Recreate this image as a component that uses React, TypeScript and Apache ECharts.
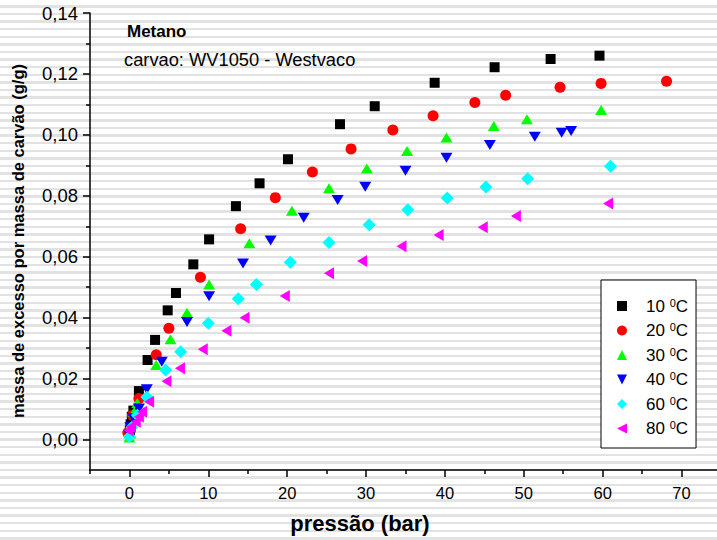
import React, { useEffect, useRef } from "react";
import * as echarts from "echarts";

const FONT = "'Liberation Sans', Arial, sans-serif";

const SERIES_NAMES = ["10", "20", "30", "40", "60", "80"];
const COLORS = ["#000000", "#ff0000", "#00ff00", "#0000ff", "#00ffff", "#ff00ff"];

const p10 = [0.05, 0.15, 0.3, 0.5, 1.2, 2.3, 3.25, 4.85, 5.9, 8.1, 10.1, 13.5, 16.5, 20.1, 26.7, 31.1, 38.7, 46.3, 53.4, 59.6];
const q10 = [0.003, 0.005, 0.0075, 0.0095, 0.0159, 0.0261, 0.0327, 0.0424, 0.0481, 0.0575, 0.0657, 0.0766, 0.0841, 0.092, 0.1035, 0.1094, 0.1171, 0.1222, 0.1249, 0.126];

const p20 = [-0.2, 0.4, 1.2, 3.4, 5.0, 9.0, 14.1, 18.5, 23.2, 28.1, 33.4, 38.5, 43.8, 47.7, 54.6, 59.8, 68.1];
const q20 = [0.0022, 0.008, 0.0135, 0.0278, 0.0365, 0.0533, 0.0692, 0.0794, 0.0878, 0.0954, 0.1016, 0.1063, 0.1106, 0.113, 0.1156, 0.1169, 0.1176];

const p30 = [0.0, 0.1, 0.6, 1.0, 3.4, 5.2, 7.3, 10.1, 15.2, 20.6, 25.3, 30.1, 35.2, 40.2, 46.2, 50.4, 59.8];
const q30 = [0.0007, 0.002, 0.009, 0.012, 0.0245, 0.0329, 0.0416, 0.0509, 0.0644, 0.0751, 0.0825, 0.089, 0.0947, 0.0991, 0.1029, 0.1051, 0.1082];

const p40 = [0.0, 0.1, 0.5, 1.2, 2.2, 4.1, 7.3, 10.1, 14.4, 17.9, 22.1, 26.4, 29.9, 35.0, 40.2, 45.7, 51.4, 54.8, 56.0];
const q40 = [0.0015, 0.004, 0.007, 0.0102, 0.0165, 0.0255, 0.0386, 0.047, 0.0578, 0.0653, 0.0728, 0.0786, 0.083, 0.0882, 0.0925, 0.0967, 0.0994, 0.1007, 0.1013];

const p60 = [0.0, 0.3, 1.0, 2.2, 4.6, 6.5, 10.0, 13.8, 16.1, 20.4, 25.3, 30.4, 35.3, 40.3, 45.2, 50.5, 61.0];
const q60 = [0.001, 0.004, 0.008, 0.014, 0.0228, 0.0288, 0.0382, 0.0462, 0.0509, 0.0582, 0.0647, 0.0705, 0.0754, 0.0793, 0.0829, 0.0856, 0.0897];

const p80 = [-0.1, 0.2, 0.8, 1.2, 1.6, 2.5, 4.7, 6.4, 9.3, 12.3, 14.6, 19.7, 25.3, 29.5, 34.5, 39.2, 44.8, 49.0, 60.7];
const q80 = [0.003, 0.0042, 0.0058, 0.0075, 0.0091, 0.0124, 0.0191, 0.0234, 0.0296, 0.0357, 0.04, 0.0471, 0.0546, 0.0586, 0.0634, 0.0671, 0.0697, 0.0734, 0.0775];

const PRESSURES = [p10, p20, p30, p40, p60, p80];
const EXCESS = [q10, q20, q30, q40, q60, q80];

const X_MAJOR = [0, 10, 20, 30, 40, 50, 60, 70];
const X_MINOR = [-5, 5, 15, 25, 35, 45, 55, 65];
const Y_MAJOR = [0, 0.02, 0.04, 0.06, 0.08, 0.1, 0.12, 0.14];
const Y_MINOR = [0.01, 0.03, 0.05, 0.07, 0.09, 0.11, 0.13];

const TRI_UP = "path://M5,0 L10,10 L0,10 Z";
const TRI_DOWN = "path://M0,0 L10,0 L5,10 Z";
const TRI_LEFT = "path://M10,0 L10,10 L0,5 Z";

const SYMBOLS = ["rect", "circle", TRI_UP, TRI_DOWN, "diamond", TRI_LEFT];
const SIZES: any[] = [10, 11, [12, 10], [12, 10], 13, [10, 12]];
const LEGEND_SIZES: any[] = [9, 9, [10, 9], [10, 9], 10, [9, 10]];

export default function App() {
  const ref = useRef<HTMLDivElement>(null);
  useEffect(() => {
    if (!ref.current) return;
    const chart = echarts.init(ref.current, null, { renderer: "svg" });
    const series = SERIES_NAMES.map((name, i) => ({
      name,
      type: "scatter",
      xAxisIndex: 0,
      yAxisIndex: 0,
      symbol: SYMBOLS[i],
      symbolSize: SIZES[i],
      itemStyle: { color: COLORS[i], opacity: 1 },
      data: PRESSURES[i].map((p, k) => [p, EXCESS[i][k]]),
    }));
    const axisLineStyle = { color: "#000", width: 1.5 };
    chart.setOption({
      animation: false,
      grid: { left: 90, right: 0, top: 13, bottom: 70, containLabel: false },
      xAxis: [
        {
          type: "value",
          min: -5,
          max: 74.5,
          position: "bottom",
          axisLine: { onZero: false, lineStyle: axisLineStyle },
          axisTick: { customValues: X_MAJOR, length: 7, lineStyle: axisLineStyle },
          axisLabel: {
            customValues: X_MAJOR,
            color: "#000",
            fontSize: 16.5,
            fontFamily: FONT,
            margin: 14,
          },
          splitLine: { show: false },
        },
        {
          type: "value",
          min: -5,
          max: 74.5,
          position: "bottom",
          axisLine: { show: false, onZero: false },
          axisTick: { customValues: X_MINOR, length: 4, lineStyle: axisLineStyle },
          axisLabel: { show: false },
          splitLine: { show: false },
        },
      ],
      yAxis: [
        {
          type: "value",
          min: -0.01,
          max: 0.14,
          position: "left",
          axisLine: { show: true, onZero: false, lineStyle: axisLineStyle },
          axisTick: { show: true, customValues: Y_MAJOR, length: 7, lineStyle: axisLineStyle },
          axisLabel: {
            customValues: Y_MAJOR,
            color: "#000",
            fontSize: 18.5,
            fontFamily: FONT,
            margin: 12,
            formatter: (v: number) => v.toFixed(2).replace(".", ","),
          },
          splitLine: { show: false },
        },
        {
          type: "value",
          min: -0.01,
          max: 0.14,
          position: "left",
          axisLine: { show: false, onZero: false },
          axisTick: { show: true, customValues: Y_MINOR, length: 4, lineStyle: axisLineStyle },
          axisLabel: { show: false },
          splitLine: { show: false },
        },
      ],
      legend: {
        orient: "vertical",
        left: 601,
        top: 280,
        padding: [17, 8, 11, 16],
        itemGap: 7,
        itemWidth: 10,
        itemHeight: 10,
        borderColor: "#000",
        borderWidth: 1,
        backgroundColor: "#fff",
        data: SERIES_NAMES.map((name, i) => ({ name, icon: SYMBOLS[i] })),
        formatter: (name: string) => `{n|${name} }{s|0}{c|C}`,
        textStyle: {
          color: "#000",
          fontFamily: FONT,
          rich: {
            n: { fontSize: 17, lineHeight: 18, padding: [0, 0, 0, 14], fontFamily: FONT, color: "#000" },
            s: { fontSize: 11, lineHeight: 18, verticalAlign: "top", fontFamily: FONT, color: "#000" },
            c: { fontSize: 17, lineHeight: 18, fontFamily: FONT, color: "#000" },
          },
        },
      },
      graphic: [
        {
          type: "text",
          x: 127,
          y: 31.5,
          style: { text: "Metano", font: `bold 17px ${FONT}`, fill: "#000", verticalAlign: "middle" },
        },
        {
          type: "text",
          x: 124,
          y: 59.5,
          style: { text: "carvao: WV1050 - Westvaco", font: `18.3px ${FONT}`, fill: "#000", verticalAlign: "middle" },
        },
        {
          type: "text",
          x: 360,
          y: 523,
          style: { text: "pressão (bar)", font: `bold 22px ${FONT}`, fill: "#000", align: "center", verticalAlign: "middle" },
        },
        {
          type: "text",
          x: 18,
          y: 241,
          rotation: Math.PI / 2,
          style: {
            text: "massa de excesso por massa de carvão (g/g)",
            font: `bold 16.5px ${FONT}`,
            fill: "#000",
            align: "center",
            verticalAlign: "middle",
          },
        },
      ],
      series,
    });
    return () => chart.dispose();
  }, []);
  return (
    <div
      style={{
        position: "fixed",
        left: 0,
        top: 0,
        width: 717,
        height: 540,
        background:
          "repeating-linear-gradient(to bottom, #ffffff 0px, #ffffff 5.2px, #e2e2e2 5.2px, #e2e2e2 7.6px)",
      }}
    >
      <div ref={ref} style={{ width: 717, height: 540 }} />
    </div>
  );
}
